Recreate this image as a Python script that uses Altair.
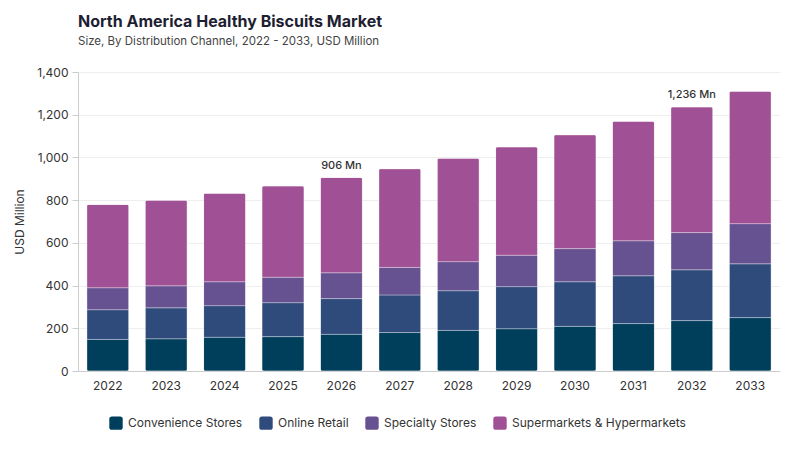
import altair as alt
import pandas as pd

years = ["2022", "2023", "2024", "2025", "2026", "2027", "2028", "2029", "2030", "2031", "2032", "2033"]
channels = ["Convenience Stores", "Online Retail", "Specialty Stores", "Supermarkets & Hypermarkets"]
colors = ["#003f5c", "#2f4b7c", "#665191", "#a05195"]

convenience = [148, 151, 158, 161, 172, 180, 190, 198, 209, 222, 236, 250]
online = [139, 145, 148, 159, 167, 176, 186, 197, 209, 224, 238, 252]
specialty = [103, 103, 112, 119, 121, 129, 136, 147, 155, 164, 174, 188]
supermarkets = [390, 401, 414, 427, 446, 462, 484, 507, 533, 559, 588, 620]

note_years = ["2026", "2032"]
note_values = [906, 1236]
note_labels = ["906 Mn", "1,236 Mn"]

series = [convenience, online, specialty, supermarkets]
rows = []
for ci, (ch, vals) in enumerate(zip(channels, series)):
    for y, v in zip(years, vals):
        rows.append({"year": y, "channel": ch, "value": v, "order": ci})
df = pd.DataFrame(rows)
notes = pd.DataFrame({"year": note_years, "value": note_values, "label": note_labels})

FONT = "Inter"

rounded = "M -0.6 -1 L 0.6 -1 Q 1 -1 1 -0.6 L 1 0.6 Q 1 1 0.6 1 L -0.6 1 Q -1 1 -1 0.6 L -1 -0.6 Q -1 -1 -0.6 -1 Z"

x_enc = alt.X("year:N", sort=years, title=None,
              scale=alt.Scale(paddingInner=0.28, paddingOuter=0.15),
              axis=alt.Axis(labelAngle=0, ticks=False, domainColor="#cccccc",
                            labelFont=FONT, labelFontSize=12, labelColor="#333333",
                            labelPadding=9))

bars = alt.Chart(df).mark_bar(cornerRadius=2, stroke="#ffffff", strokeOpacity=0.4,
                              strokeWidth=0.8).encode(
    x=x_enc,
    y=alt.Y("sum(value):Q", title="USD Million",
            scale=alt.Scale(domain=[0, 1400]),
            axis=alt.Axis(values=[0, 200, 400, 600, 800, 1000, 1200, 1400], format=",.0f",
                          gridColor="#eeeeee", domainColor="#cccccc", tickColor="#cccccc",
                          tickSize=6, labelFont=FONT, labelFontSize=12, labelColor="#333333",
                          titleFont=FONT, titleFontSize=12, titleColor="#333333",
                          titleFontWeight="normal", titlePadding=10, labelPadding=4)),
    color=alt.Color("channel:N", sort=channels,
                    scale=alt.Scale(domain=channels, range=colors),
                    legend=alt.Legend(title=None, orient="none", direction="horizontal",
                                      legendX=31, legendY=344,
                                      symbolType=rounded, symbolSize=180, symbolStrokeWidth=0,
                                      labelFont=FONT, labelFontSize=12, labelColor="#333333",
                                      labelLimit=300, columnPadding=16, labelOffset=5)),
    order=alt.Order("order:Q", sort="ascending"),
)

text = alt.Chart(notes).mark_text(dy=-12, font=FONT, fontSize=11, color="#333333",
                                  fontWeight=500).encode(
    x=alt.X("year:N", sort=years),
    y=alt.Y("value:Q"),
    text="label:N",
)

chart = alt.layer(bars, text).properties(
    width=702, height=299,
    padding={"left": 70, "top": 64, "right": 10, "bottom": 70},
    autosize=alt.AutoSizeParams(type="none"),
    title=alt.Title("North America Healthy Biscuits Market",
                    subtitle="Size, By Distribution Channel, 2022 - 2033, USD Million",
                    anchor="start", frame="group", font=FONT, fontSize=16, fontWeight="bold",
                    color="#1e1e32", subtitleFont=FONT, subtitleFontSize=11.5,
                    subtitleColor="#444444", offset=19, subtitlePadding=6),
).configure_view(stroke=None)

chart.save("out.html", embed_options={"renderer": "svg", "actions": False})
